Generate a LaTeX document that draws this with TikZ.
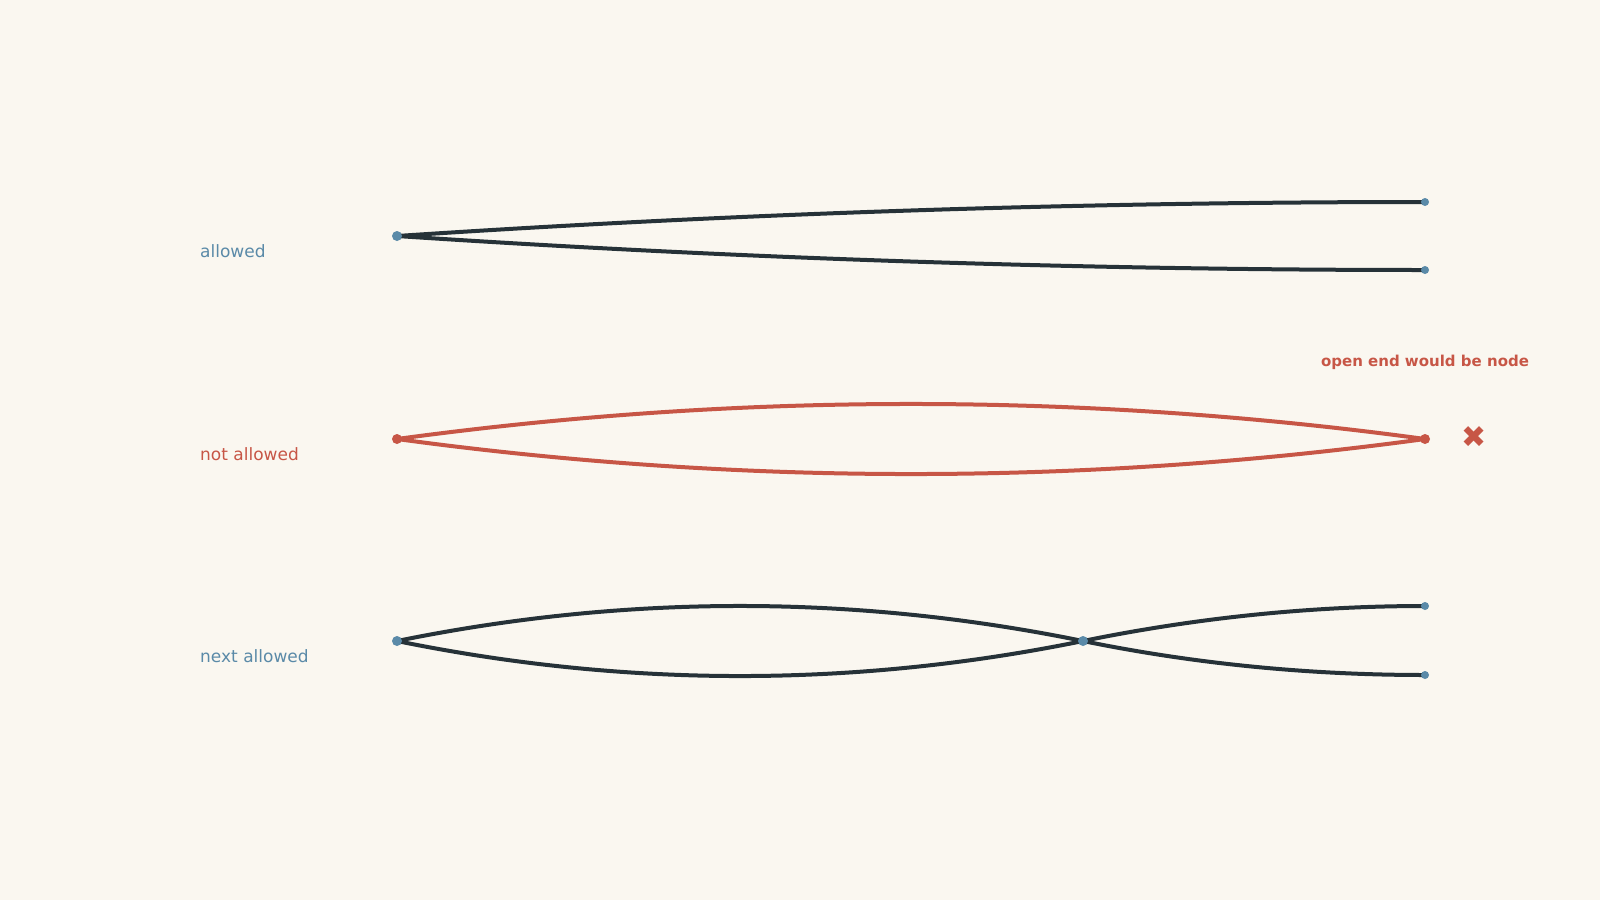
\documentclass[tikz,border=0pt]{standalone}
\usepackage{fontspec}
\setmainfont{DejaVu Sans}
\definecolor{bg}{HTML}{FAF7F0}
\definecolor{ink}{HTML}{263238}
\definecolor{bluec}{HTML}{5A8AA8}
\definecolor{redc}{HTML}{C75646}
\tikzset{
  edge/.style={draw=ink, line width=4pt},
  badedge/.style={draw=redc, line width=4pt},
  bigdot/.style={circle, fill=bluec, inner sep=0pt, minimum size=10pt},
  smalldot/.style={circle, fill=bluec, inner sep=0pt, minimum size=8pt},
  reddot/.style={circle, fill=redc, inner sep=0pt, minimum size=10pt},
  rowlabel/.style={anchor=base west, inner sep=0pt, font=\fontsize{17}{20}\selectfont},
}
\begin{document}
\begin{tikzpicture}[x=1pt,y=-1pt]
\fill[bg] (0,0) rectangle (1600,900);
\useasboundingbox (0,0) rectangle (1600,900);
% coordinates
\coordinate (a0) at (397,236);
\coordinate (a1) at (1425,202);
\coordinate (a2) at (1425,270);
\coordinate (b0) at (397,439);
\coordinate (b1) at (1425,439);
\coordinate (c0) at (397,641);
\coordinate (cm) at (1083,641);
\coordinate (c1) at (1425,606);
\coordinate (c2) at (1425,675);
% row 1
\path[edge] (a0) .. controls (739.7,213.3) and (1082.3,202) .. (a1);
\path[edge] (a0) .. controls (739.7,258.7) and (1082.3,270) .. (a2);
% row 2
\path[badedge] (b0) .. controls (739.7,392.3) and (1082.3,392.3) .. (b1);
\path[badedge] (b0) .. controls (739.7,485.7) and (1082.3,485.7) .. (b1);
% row 3
\path[edge] (c0) .. controls (625.7,594.3) and (854.3,594.3) .. (cm);
\path[edge] (c0) .. controls (625.7,687.7) and (854.3,687.7) .. (cm);
\path[edge] (cm) .. controls (1197,617.7) and (1311,606) .. (c1);
\path[edge] (cm) .. controls (1197,664.3) and (1311,675) .. (c2);
% dots
\node[bigdot] (d-a0) at (a0) {};
\node[smalldot] (d-a1) at (a1) {};
\node[smalldot] (d-a2) at (a2) {};
\node[reddot] (d-b0) at (b0) {};
\node[reddot] (d-b1) at (b1) {};
\node[bigdot] (d-c0) at (c0) {};
\node[bigdot] (d-cm) at (cm) {};
\node[smalldot] (d-c1) at (c1) {};
\node[smalldot] (d-c2) at (c2) {};
% labels
\node[rowlabel, text=bluec] (l1) at (200,257) {allowed};
\node[rowlabel, text=redc] (l2) at (200,460) {not allowed};
\node[rowlabel, text=bluec] (l3) at (200,662) {next allowed};
\node[anchor=base, inner sep=0pt, text=redc, font=\fontsize{15}{18}\selectfont\bfseries] (note) at (1425,366) {open end would be node};
\node[inner sep=0pt, text=redc, font=\fontsize{30}{34}\selectfont] (cross) at (1474,437.5) {✖};
\end{tikzpicture}
\end{document}
